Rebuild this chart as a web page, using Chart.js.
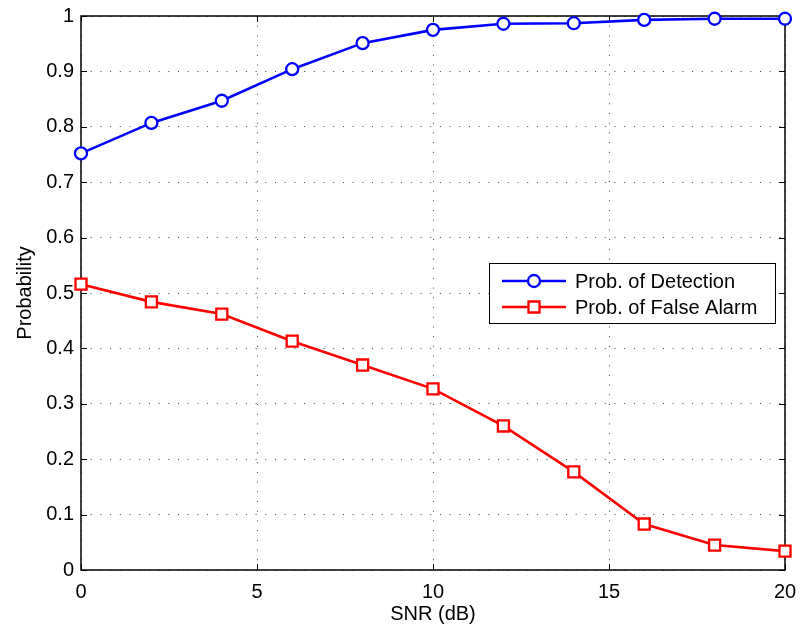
<!DOCTYPE html>
<html><head><meta charset="utf-8">
<script src="https://cdn.jsdelivr.net/npm/chart.js@4.4.0/dist/chart.umd.min.js"></script>
<style>html,body{margin:0;padding:0;background:#fff;} #wrap{width:800px;height:630px;}</style>
</head><body><div id="wrap"><canvas id="c" width="800" height="630"></canvas></div>
<script>
const snr = [0, 2, 4, 6, 8, 10, 12, 14, 16, 18, 20];
const probDetection = [0.752, 0.807, 0.847, 0.904, 0.951, 0.975, 0.986, 0.987, 0.993, 0.995, 0.995];
const probFalseAlarm = [0.516, 0.484, 0.462, 0.413, 0.370, 0.327, 0.260, 0.177, 0.083, 0.045, 0.034];
const seriesNames = ['Prob. of Detection', 'Prob. of False Alarm'];
const xTickValues = [0, 5, 10, 15, 20];
const xTickLabels = ['0', '5', '10', '15', '20'];
const yTickValues = [0, 0.1, 0.2, 0.3, 0.4, 0.5, 0.6, 0.7, 0.8, 0.9, 1];
const yTickLabels = ['0', '0.1', '0.2', '0.3', '0.4', '0.5', '0.6', '0.7', '0.8', '0.9', '1'];
const xTitle = 'SNR (dB)';
const yTitle = 'Probability';

const FONT = '"Liberation Sans", Arial, Helvetica, sans-serif';
const FS = 20;

const framePlugin = {
  id: 'frame',
  beforeDatasetsDraw(chart) {
    const {ctx, chartArea: a, scales: {x, y}} = chart;
    ctx.save();
    ctx.strokeStyle = '#000';
    ctx.lineWidth = 1;
    const L = 6;
    ctx.beginPath();
    x.ticks.forEach(t => {
      const px = Math.round(x.getPixelForValue(t.value)) + 0.5;
      ctx.moveTo(px, a.bottom); ctx.lineTo(px, a.bottom - L);
      ctx.moveTo(px, a.top); ctx.lineTo(px, a.top + L);
    });
    y.ticks.forEach(t => {
      const py = Math.round(y.getPixelForValue(t.value)) + 0.5;
      ctx.moveTo(a.left, py); ctx.lineTo(a.left + L, py);
      ctx.moveTo(a.right, py); ctx.lineTo(a.right - L, py);
    });
    ctx.stroke();
    ctx.lineWidth = 1.5;
    ctx.strokeRect(a.left, a.top, a.right - a.left, a.bottom - a.top);
    ctx.restore();
  }
};

const legendPlugin = {
  id: 'boxLegend',
  afterDraw(chart) {
    const {ctx, chartArea: a} = chart;
    ctx.save();
    ctx.font = FS + 'px ' + FONT;
    const dsets = chart.data.datasets;
    const right = a.right - 10;
    const left = right - 286;
    const top = a.top + 247;
    const h = 60;
    ctx.fillStyle = '#fff';
    ctx.fillRect(left, top, right - left, h);
    ctx.strokeStyle = '#000';
    ctx.lineWidth = 1;
    ctx.strokeRect(Math.round(left) + 0.5, top + 0.5, Math.round(right - left), h);
    dsets.forEach((d, i) => {
      const cy = top + 18 + i * 26;
      const x0 = left + 13, x1 = x0 + 64;
      ctx.strokeStyle = d.borderColor;
      ctx.lineWidth = d.borderWidth;
      ctx.beginPath(); ctx.moveTo(x0, cy); ctx.lineTo(x1, cy); ctx.stroke();
      ctx.fillStyle = '#fff';
      ctx.strokeStyle = d.pointBorderColor;
      ctx.lineWidth = d.pointBorderWidth;
      Chart.helpers.drawPoint(ctx, {pointStyle: d.pointStyle, radius: d.pointRadius, borderWidth: d.pointBorderWidth, rotation: 0}, (x0 + x1) / 2, cy);
      ctx.fillStyle = '#000';
      ctx.textBaseline = 'middle';
      ctx.textAlign = 'left';
      ctx.fillText(d.label, left + 86, cy + 1);
    });
    ctx.restore();
  }
};

const gridCommon = {
  color: 'rgba(0,0,0,0.75)',
  lineWidth: 1,
  drawTicks: false
};

new Chart(document.getElementById('c'), {
  type: 'line',
  data: {
    datasets: [
      {
        label: seriesNames[0],
        data: snr.map((s, i) => ({x: s, y: probDetection[i]})),
        borderColor: '#0000ff', borderWidth: 2.6,
        pointStyle: 'circle', pointRadius: 6, pointBorderWidth: 2.3,
        pointBorderColor: '#0000ff', pointBackgroundColor: '#fff',
        tension: 0, clip: false
      },
      {
        label: seriesNames[1],
        data: snr.map((s, i) => ({x: s, y: probFalseAlarm[i]})),
        borderColor: '#ff0000', borderWidth: 2.6,
        pointStyle: 'rect', pointRadius: 7.8, pointBorderWidth: 2.3,
        pointBorderColor: '#ff0000', pointBackgroundColor: '#fff',
        tension: 0, clip: false
      }
    ]
  },
  options: {
    responsive: false,
    devicePixelRatio: 1,
    animation: false,
    layout: {padding: {top: 16, right: 15, left: 0, bottom: 0}},
    plugins: {legend: {display: false}, tooltip: {enabled: false}},
    scales: {
      x: {
        type: 'linear', min: 0, max: 20,
        afterBuildTicks: s => { s.ticks = xTickValues.map(v => ({value: v})); },
        afterFit: s => { s.height = 60; s.paddingLeft = 0; s.paddingRight = 0; },
        ticks: {
          autoSkip: false, maxRotation: 0, padding: 10, color: '#000',
          font: {family: FONT, size: FS},
          callback: (v, i) => xTickLabels[i]
        },
        grid: gridCommon,
        border: {display: false, dash: [1, 8.7]},
        title: {display: true, text: xTitle, color: '#000', font: {family: FONT, size: FS}, padding: {bottom: 4}}
      },
      y: {
        type: 'linear', min: 0, max: 1,
        afterBuildTicks: s => { s.ticks = yTickValues.map(v => ({value: v})); },
        afterFit: s => { s.width = 81; s.paddingTop = 0; s.paddingBottom = 0; },
        ticks: {
          autoSkip: false, padding: 7, color: '#000',
          font: {family: FONT, size: FS},
          callback: (v, i) => yTickLabels[i]
        },
        grid: gridCommon,
        border: {display: false, dash: [1, 8.7]},
        title: {display: true, text: yTitle, color: '#000', font: {family: FONT, size: FS}, padding: {top: 13}}
      }
    }
  },
  plugins: [framePlugin, legendPlugin]
});
</script>
</body></html>
